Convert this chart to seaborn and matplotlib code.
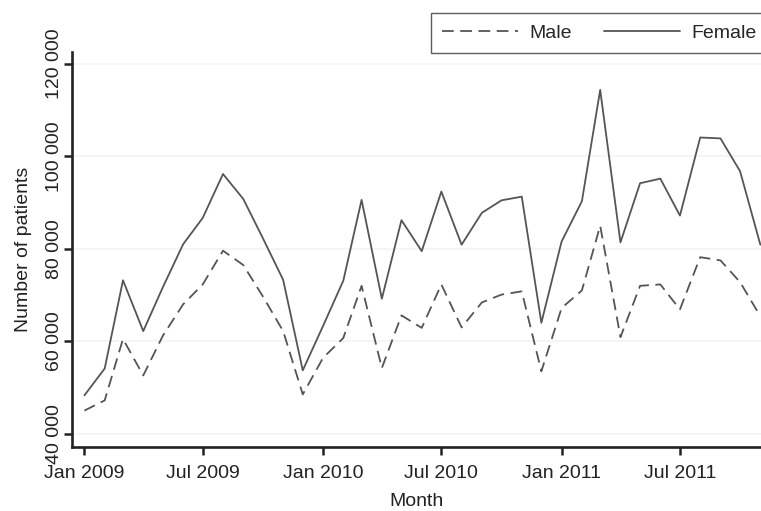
import numpy as np
import pandas as pd
import seaborn as sns
import matplotlib.pyplot as plt
import matplotlib.dates as mdates
from matplotlib.ticker import FuncFormatter

# Monthly counts, Jan 2009 - Nov 2011
months = pd.date_range('2009-01-01', '2011-11-01', freq='MS')
male = [
    45000, 47200, 60500, 52600, 61200, 68000, 72300, 79600, 76500, 69700, 62200, 48500,
    56400, 60700, 72000, 54200, 65600, 62900, 72300, 63000, 68400, 70100, 70800, 53500,
    67200, 71000, 85000, 60900, 72000, 72300, 66900, 78200, 77500, 72800, 65400,
]
female = [
    48300, 54100, 73200, 62200, 71700, 81000, 86700, 96200, 90800, 82300, 73300, 53700,
    63300, 73100, 90600, 69200, 86200, 79500, 92400, 80900, 87800, 90500, 91300, 64000,
    81600, 90300, 114400, 81400, 94200, 95200, 87200, 104100, 103900, 96800, 80900,
]
sexes = ['Male', 'Female']
y_ticks = [40000, 60000, 80000, 100000, 120000]

df = pd.concat([
    pd.DataFrame({'month': months, 'patients': male, 'sex': 'Male'}),
    pd.DataFrame({'month': months, 'patients': female, 'sex': 'Female'}),
], ignore_index=True)

sns.set_theme(style='white')
plt.rcParams['font.family'] = ['Liberation Sans', 'DejaVu Sans']

fig = plt.figure(figsize=(7.61, 5.11), dpi=100)
ax = fig.add_axes([72 / 761, 64 / 511, 689 / 761, 395 / 511])

line_color = '#555555'
sns.lineplot(
    data=df, x='month', y='patients', style='sex', style_order=sexes,
    dashes={'Male': (6.5, 3.6), 'Female': ''}, color=line_color,
    linewidth=1.3, ax=ax,
)

# axis ranges
ax.set_xlim(pd.Timestamp('2008-12-13'), pd.Timestamp('2011-11-02'))
ax.set_ylim(37120, 122600)

# ticks
ax.xaxis.set_major_locator(mdates.MonthLocator(bymonth=[1, 7]))
ax.xaxis.set_major_formatter(mdates.DateFormatter('%b %Y'))
ax.set_yticks(y_ticks)
ax.yaxis.set_major_formatter(FuncFormatter(lambda v, _: f'{int(v):,}'.replace(',', ' ')))
ax.tick_params(axis='both', which='major', labelsize=14, length=6, width=1.8,
               color='#222222', labelcolor='#222222', direction='out',
               bottom=True, left=True)
ax.tick_params(axis='x', pad=7)
ax.tick_params(axis='y', pad=0.5)
for lbl in ax.get_yticklabels():
    lbl.set_rotation(90)
    lbl.set_va('center')

ax.yaxis.grid(True, color='#f3f3f3', linewidth=1.2)
ax.xaxis.grid(False)

for side in ['top', 'right']:
    ax.spines[side].set_visible(False)
for side in ['left', 'bottom']:
    ax.spines[side].set_color('#222222')
    ax.spines[side].set_linewidth(1.9)

ax.set_xlabel('Month', fontsize=14, color='#222222', labelpad=8)
ax.set_ylabel('Number of patients', fontsize=14, color='#222222', labelpad=10)

# legend above the plot, two columns
handles, labels = ax.get_legend_handles_labels()
ax.get_legend().remove()
leg = fig.legend(
    handles, labels, loc='upper left', bbox_to_anchor=(431 / 761, 1 - 13 / 511),
    ncol=2, fontsize=14, frameon=True, fancybox=False, handlelength=3.9,
    handletextpad=0.6, columnspacing=1.65, borderpad=0.58, borderaxespad=0,
)
leg.get_frame().set_edgecolor('#333333')
leg.get_frame().set_linewidth(1.0)
for h in leg.get_lines():
    h.set_color(line_color)
    h.set_linewidth(1.3)

fig.savefig('out.png', dpi=100)
